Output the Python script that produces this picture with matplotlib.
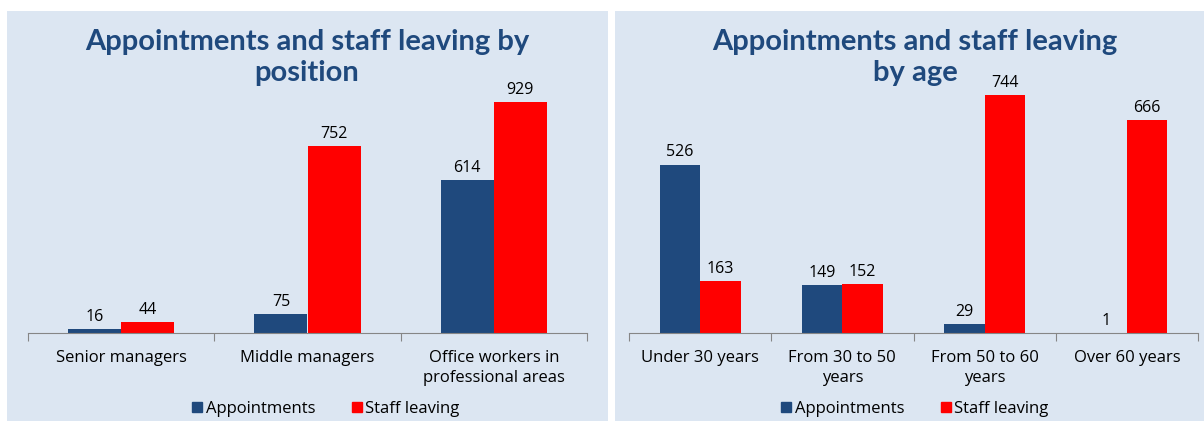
import matplotlib.pyplot as plt
from matplotlib.patches import Rectangle, Patch
import numpy as np

# data
pos_labels = ['Senior managers', 'Middle managers', 'Office workers in\nprofessional areas']
pos_appointments = [16, 75, 614]
pos_leaving = [44, 752, 929]

age_labels = ['Under 30 years', 'From 30 to 50\nyears', 'From 50 to 60\nyears', 'Over 60 years']
age_appointments = [526, 149, 29, 1]
age_leaving = [163, 152, 744, 666]

BLUE = '#1F497D'
RED = '#FF0000'
BG = '#DCE6F2'
TITLE = '#1F497D'

plt.rcParams['font.family'] = ['Open Sans', 'DejaVu Sans']

W, H = 1204, 421
fig = plt.figure(figsize=(W / 100, H / 100), dpi=100)
fig.patch.set_facecolor('white')

# panel backgrounds
fig.patches.append(Rectangle((7 / W, 0), 601 / W, 410 / H, transform=fig.transFigure,
                             facecolor=BG, edgecolor='none', zorder=-10))
fig.patches.append(Rectangle((615 / W, 0), 589 / W, 410 / H, transform=fig.transFigure,
                             facecolor=BG, edgecolor='none', zorder=-10))


def panel(rect, labels, appt, leave, ymax, title_lines, title_x, legend_x):
    ax = fig.add_axes(rect)
    ax.set_facecolor('none')
    n = len(labels)
    x = np.arange(n)
    w = 0.285
    b1 = ax.bar(x - w / 2, appt, w, color=BLUE, label='Appointments')
    b2 = ax.bar(x + w / 2, leave, w, color=RED, label='Staff leaving')
    for bars in (b1, b2):
        ax.bar_label(bars, padding=3, fontsize=11.5)
    ax.set_xlim(-0.5, n - 0.5)
    ax.set_ylim(0, ymax)
    for s in ['top', 'right', 'left']:
        ax.spines[s].set_visible(False)
    ax.spines['bottom'].set_color('#868686')
    ax.set_yticks([])
    ax.set_xticks(np.arange(n + 1) - 0.5)
    ax.set_xticklabels([])
    ax.tick_params(axis='x', which='major', length=6, color='#868686')
    ax.set_xticks(x, minor=True)
    ax.set_xticklabels(labels, minor=True, fontsize=12, linespacing=1.4)
    ax.tick_params(axis='x', which='minor', length=0, pad=12)
    # title, one text per line
    for i, line in enumerate(title_lines):
        fig.text(title_x / W, 1 - (42 + 31 * i) / H, line, ha='center', va='center', fontsize=21,
                 fontweight='bold', color=TITLE, family='Lato')
    fig.legend(handles=[Patch(color=BLUE, label='Appointments'), Patch(color=RED, label='Staff leaving')],
               loc='center', bbox_to_anchor=(legend_x / W, 1 - 409 / H), ncol=2, frameon=False,
               fontsize=12, handlelength=0.6, handleheight=0.6, handletextpad=0.2, columnspacing=2.2)
    return ax


panel([28 / W, 88 / H, 559 / W, 253 / H], pos_labels, pos_appointments, pos_leaving,
      1017, ['Appointments and staff leaving by', 'position'], 307, 326)
panel([629 / W, 88 / H, 569 / W, 253 / H], age_labels, age_appointments, age_leaving,
      790, ['Appointments and staff leaving', 'by age'], 915, 915)

fig.savefig('out.png', dpi=100)
